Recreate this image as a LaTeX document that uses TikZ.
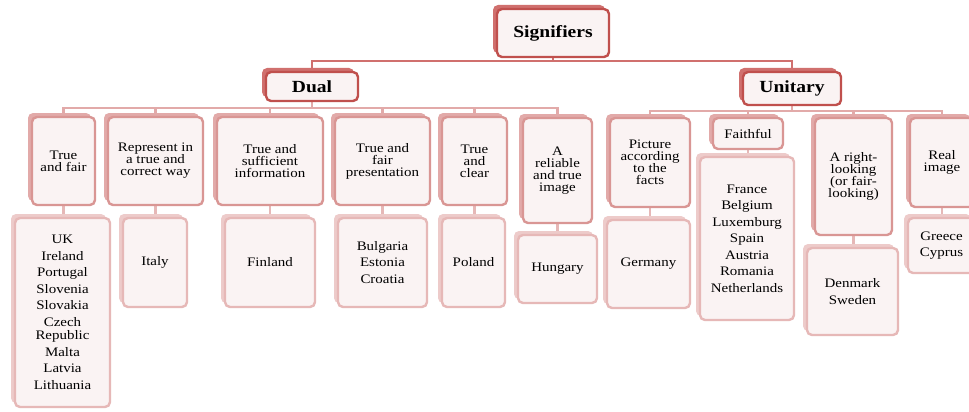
\documentclass[tikz,border=0pt]{standalone}
\usepackage{fontspec}
\setmainfont[FakeStretch=1.15]{Liberation Serif}
\usetikzlibrary{shadows,backgrounds}

\definecolor{topline}{RGB}{192,80,77}
\definecolor{topback}{RGB}{208,112,110}
\definecolor{midline}{RGB}{217,150,148}
\definecolor{midback}{RGB}{226,170,169}
\definecolor{lowline}{RGB}{230,184,183}
\definecolor{lowback}{RGB}{237,203,202}
\definecolor{boxfill}{RGB}{250,243,243}

\tikzset{
  card/.style={rounded corners=5pt, fill=boxfill, line width=2.4pt, align=center, inner sep=2pt},
  headbox/.style={card, draw=topline, general shadow={fill=topback, shadow xshift=-4pt, shadow yshift=4pt}, font=\fontsize{17}{19}\selectfont\bfseries},
  termbox/.style={card, draw=midline, general shadow={fill=midback, shadow xshift=-4pt, shadow yshift=4pt}, font=\fontsize{13}{12}\selectfont},
  countrybox/.style={card, draw=lowline, general shadow={fill=lowback, shadow xshift=-4pt, shadow yshift=4pt}, font=\fontsize{13}{16.5}\selectfont},
  link/.style={line width=2.5pt}
}

\begin{document}
\begin{tikzpicture}[x=1pt, y=-1pt]
			\useasboundingbox (0,0) rectangle (969,412);

			% Top of the tree
			\node[headbox, minimum width=112pt, minimum height=48pt] (sig) at (553,33) {Signifiers};
			\node[headbox, minimum width=92pt, minimum height=29pt] (dual) at (312,86.5) {Dual};
			\node[headbox, minimum width=98pt, minimum height=33pt] (unit) at (792,88.5) {Unitary};

			% Dual terms
			\node[termbox, minimum width=63pt, minimum height=88pt] (d1) at (63.5,161) {True\\and fair};
			\node[termbox, minimum width=95pt, minimum height=88pt] (d2) at (155.5,161) {Represent in\\a true and\\correct way};
			\node[termbox, minimum width=106pt, minimum height=88pt] (d3) at (270,161) {True and\\sufficient\\information};
			\node[termbox, minimum width=95pt, minimum height=88pt] (d4) at (382.5,161) {True and\\fair\\presentation};
			\node[termbox, minimum width=65pt, minimum height=88pt] (d5) at (474.5,161) {True\\and\\clear};
			\node[termbox, minimum width=69pt, minimum height=105pt] (d6) at (557.5,170.5) {A\\reliable\\and true\\image};

			% Unitary terms
			\node[termbox, minimum width=80pt, minimum height=89pt] (u1) at (650,162.5) {Picture\\according\\to the\\facts};
			\node[termbox, minimum width=70pt, minimum height=31pt] (u2) at (748,133.5) {Faithful};
			\node[termbox, minimum width=77pt, minimum height=117pt] (u3) at (853.5,176.5) {A right-\\looking\\(or fair-\\looking)};
			\node[termbox, minimum width=64pt, minimum height=89pt] (u4) at (942,162.5) {Real\\image};

			% Countries
			\node[countrybox, minimum width=95pt, minimum height=189pt] (c1) at (62.5,312.5) {UK\\Ireland\\Portugal\\Slovenia\\Slovakia\\Czech\\[-3pt]Republic\\Malta\\Latvia\\Lithuania};
			\node[countrybox, minimum width=64pt, minimum height=89pt] (c2) at (155,262.5) {Italy};
			\node[countrybox, minimum width=90pt, minimum height=89pt] (c3) at (270,262.5) {Finland};
			\node[countrybox, minimum width=89pt, minimum height=89pt] (c4) at (382.5,262.5) {Bulgaria\\Estonia\\Croatia};
			\node[countrybox, minimum width=63pt, minimum height=89pt] (c5) at (473.5,262.5) {Poland};
			\node[countrybox, minimum width=79pt, minimum height=68pt] (c6) at (557.5,269) {Hungary};
			\node[countrybox, minimum width=83pt, minimum height=88pt] (c7) at (648.5,264) {Germany};
			\node[countrybox, minimum width=94pt, minimum height=163pt] (c8) at (747,238.5) {France\\Belgium\\Luxemburg\\Spain\\Austria\\Romania\\Netherlands};
			\node[countrybox, minimum width=91pt, minimum height=87pt] (c9) at (852.5,291.5) {Denmark\\Sweden};
			\node[countrybox, minimum width=67pt, minimum height=55pt] (c10) at (941.5,245.5) {Greece\\Cyprus};

			\begin{scope}[on background layer]
			\fill[white] (0,0) rectangle (969,412);
			% Connectors
			\draw[link, topback] (sig.south) -- ++(0,3) -| (dual.north);
			\draw[link, topback] (sig.south) -- ++(0,3) -| (unit.north);
			\foreach \src in {d1,d2,d3,d4,d5,d6}
				\draw[link, midback] (dual.south) -- ++(0,6) -| (\src.north);
			\foreach \src in {u1,u2,u3,u4}
				\draw[link, midback] (unit.south) -- ++(0,5) -| (\src.north);
			\foreach \src/\dst in {d1/c1,d2/c2,d3/c3,d4/c4,d5/c5,d6/c6,u1/c7,u2/c8,u3/c9,u4/c10}
				\draw[link, lowline] (\src.south) -- (\src.south |- \dst.north);
			\end{scope}
		\end{tikzpicture}
\end{document}
